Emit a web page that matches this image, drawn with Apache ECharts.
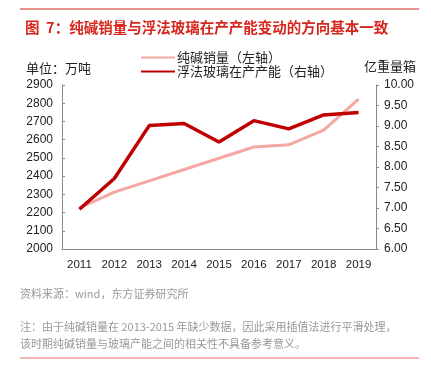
<!DOCTYPE html>
<html>
<head>
<meta charset="utf-8">
<script src="https://cdn.jsdelivr.net/npm/echarts@6/dist/echarts.min.js"></script>
<style>html,body{margin:0;padding:0;background:#fff;}#c{width:431px;height:372px;}</style>
</head>
<body>
<div id="c"></div>
<script>
const years = ['2011','2012','2013','2014','2015','2016','2017','2018','2019'];
const sodaAshSales = [2225, 2312, 2374, 2436, 2498, 2560, 2572, 2652, 2823];
const floatGlassCapacity = [6.97, 7.72, 9.01, 9.06, 8.61, 9.13, 8.93, 9.27, 9.33];
const leftTicks = [2000, 2900, 100];
const rightTicks = [6, 10, 0.5];

const FONT = '"Liberation Sans", Arial, "Noto Sans CJK SC", sans-serif';
const CJK = '"Noto Sans CJK SC", sans-serif';
const chart = echarts.init(document.getElementById('c'), null, {renderer: 'canvas'});
chart.setOption({
  backgroundColor: '#fff',
  animation: false,
  title: {
    text: '图  7：纯碱销量与浮法玻璃在产产能变动的方向基本一致',
    left: 20, top: 15,
    textStyle: {color: '#D7261E', fontSize: 14.5, fontWeight: 'bold', fontFamily: CJK}
  },
  legend: {
    left: 136, top: 46, orient: 'vertical', itemGap: 1,
    itemWidth: 34, itemHeight: 13,
    icon: 'path://M0,5 L34,5 L34,7 L0,7 Z',
    textStyle: {fontSize: 13, color: '#222', fontFamily: CJK, padding: [0,0,0,-3]},
    data: [
      {name: '纯碱销量（左轴）', itemStyle: {color: '#F5A8A3'}},
      {name: '浮法玻璃在产产能（右轴）', itemStyle: {color: '#C00000'}}
    ]
  },
  grid: {left: 62, right: 55, top: 85, bottom: 123},
  xAxis: {
    type: 'category', data: years, boundaryGap: true,
    axisLine: {lineStyle: {color: '#888', width: 1}},
    axisTick: {inside: true, length: 3, lineStyle: {color: '#888'}},
    axisLabel: {color: '#222', fontSize: 11.5, fontFamily: FONT, margin: 10}
  },
  yAxis: [
    {
      type: 'value', min: leftTicks[0], max: leftTicks[1], interval: leftTicks[2],
      position: 'left',
      axisLine: {show: true, lineStyle: {color: '#888'}},
      axisTick: {show: true, inside: true, length: 3, lineStyle: {color: '#888'}},
      splitLine: {show: false},
      axisLabel: {color: '#222', fontSize: 12, fontFamily: FONT, margin: 9,
        formatter: v => String(v)}
    },
    {
      type: 'value', min: rightTicks[0], max: rightTicks[1], interval: rightTicks[2],
      position: 'right',
      axisLine: {show: true, lineStyle: {color: '#888'}},
      axisTick: {show: true, inside: false, length: 3, lineStyle: {color: '#888'}},
      splitLine: {show: false},
      axisLabel: {color: '#222', fontSize: 12, fontFamily: FONT, margin: 8,
        formatter: v => v.toFixed(2)}
    }
  ],
  series: [
    {
      name: '纯碱销量（左轴）', type: 'line', yAxisIndex: 0, data: sodaAshSales,
      symbol: 'none', lineStyle: {color: '#F5A8A3', width: 3}, itemStyle: {color: '#F5A8A3'}, z: 2
    },
    {
      name: '浮法玻璃在产产能（右轴）', type: 'line', yAxisIndex: 1, data: floatGlassCapacity,
      symbol: 'none', lineStyle: {color: '#C00000', width: 3.5}, itemStyle: {color: '#C00000'}, z: 3
    }
  ],
  graphic: [
    {type: 'line', shape: {x1: 20, y1: 9, x2: 419, y2: 9}, style: {stroke: '#D7261E', lineWidth: 1}},
    {type: 'line', shape: {x1: 20, y1: 358, x2: 419, y2: 358}, style: {stroke: '#E57373', lineWidth: 1}},
    {type: 'text', left: 26, top: 62, style: {text: '单位：万吨', fill: '#222', fontSize: 13, fontFamily: CJK}},
    {type: 'text', right: 15, top: 60, style: {text: '亿重量箱', fill: '#222', fontSize: 13, fontFamily: CJK}},
    {type: 'text', left: 20, top: 288, style: {text: '资料来源：wind，东方证券研究所', fill: '#999', fontSize: 11, fontFamily: CJK}},
    {type: 'text', left: 20, top: 318, style: {text: '注：由于纯碱销量在 2013-2015 年缺少数据，因此采用插值法进行平滑处理，\n该时期纯碱销量与玻璃产能之间的相关性不具备参考意义。', fill: '#999', fontSize: 11, lineHeight: 17, fontFamily: CJK}}
  ]
});
</script>
</body>
</html>
